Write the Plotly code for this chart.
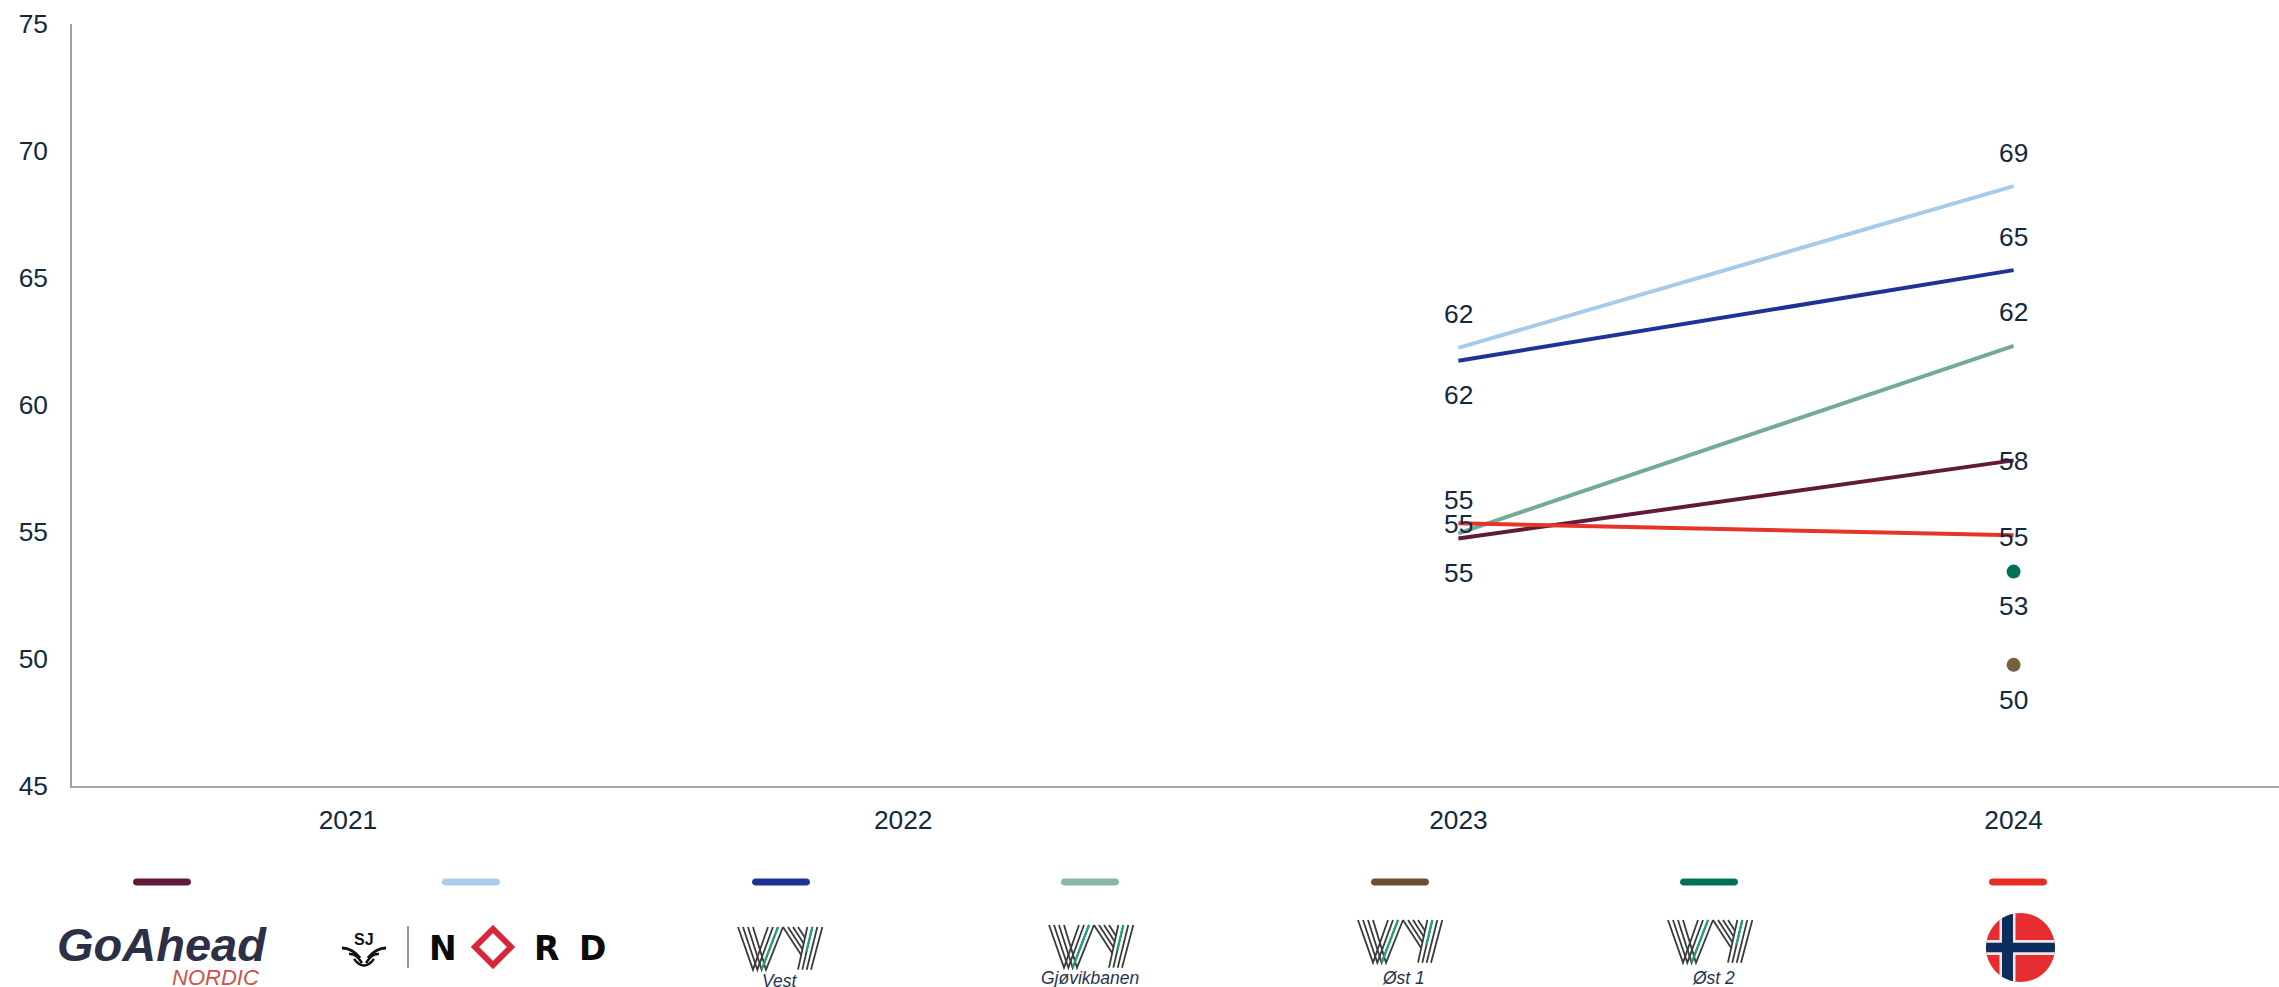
import math
import plotly.graph_objects as go

years = ["2021", "2022", "2023", "2024"]
go_ahead = [None, None, 54.74, 57.82]
sj_nord = [None, None, 62.25, 68.62]
vy_vest = [None, None, 61.74, 65.31]
vy_gjovik = [None, None, 54.95, 62.33]
vy_ost1 = [None, None, None, 49.77]
vy_ost2 = [None, None, None, 53.44]
norge = [None, None, 55.34, 54.87]

y_ticks = [45, 50, 55, 60, 65, 70, 75]
INK = "#12293f"
FONT = "Liberation Sans"

W, H = 2279, 987
L, T, B = 72, 24, 786


def px(x):
    return (x - L) / (W - L)


def py(y):
    return (B - y) / (B - T)


def P2(x, y):
    return f"{px(x):.5f} {py(y):.5f}"


shapes = []
annos = []


def add_path(d, fill=None, line=None, width=0):
    s = dict(type="path", xref="paper", yref="paper", path=d, layer="above")
    s["fillcolor"] = fill if fill else "rgba(0,0,0,0)"
    s["line"] = dict(color=line if line else "rgba(0,0,0,0)", width=width)
    shapes.append(s)


def poly(points, fill):
    d = "M" + " L".join(P2(x, y) for x, y in points) + " Z"
    add_path(d, fill=fill)


def arc(cx, cy, r, a0, a1, n=24):
    return [(cx + r * math.cos(a0 + (a1 - a0) * k / n), cy + r * math.sin(a0 + (a1 - a0) * k / n))
            for k in range(n + 1)]


def text(x, y, t, size, color=INK, family=FONT):
    annos.append(dict(xref="paper", yref="paper", x=px(x), y=py(y), text=t, showarrow=False,
                      xanchor="center", yanchor="middle", borderpad=0,
                      font=dict(size=size, color=color, family=family)))


def legend_dash(cx, color, y=882, half=29, r=3.5):
    x0, x1 = cx - half + r, cx + half - r
    pts = arc(x1, y, r, -math.pi / 2, math.pi / 2, 8) + arc(x0, y, r, math.pi / 2, 3 * math.pi / 2, 8)
    poly(pts, color)


def vy_logo(x0, y0):
    def q(x, y):
        return P2(x0 + x / 3, y0 + y / 3)

    black, green = "#3a3c3c", "#1fa283"
    sw = 1.8
    for i in range(4):
        add_path(f"M{q(15 * i, 0)} L{q(45 + 13 * i, 128)} L{q(90 + 15 * i, 0)}", line=black, width=sw)
        end_y = (73 - 15 * i) / 0.869
        add_path(f"M{q(135 + 15 * i, 0)} L{q(135 + 15 * i + 0.65 * end_y, end_y)}", line=black, width=sw)
        add_path(f"M{q(180 + 13 * i, 128)} L{q(208 + 15 * i, 0)}", line=black, width=sw)
    add_path(f"M{q(71, 128)} L{q(120, 0)}", line=green, width=sw + 0.4)
    add_path(f"M{q(205, 75)} L{q(223, 0)}", line=green, width=sw + 0.4)


def chord_bar_v(cx, cy, r, x1, x2, color):
    a = [math.acos(x1 / r), math.acos(x2 / r)]
    top = arc(cx, cy, r, -a[0], -a[1], 8)
    bottom = arc(cx, cy, r, a[1], a[0], 8)
    poly(top + bottom, color)


def chord_bar_h(cx, cy, r, y1, y2, color):
    a = [math.asin(y1 / r), math.asin(y2 / r)]
    right = arc(cx, cy, r, a[0], a[1], 8)
    left = arc(cx, cy, r, math.pi - a[1], math.pi - a[0], 8)
    poly(right + left, color)


def flag(cx, cy, r):
    red, navy, white = "#e62e31", "#0c2e5e", "#f4e6e8"
    poly(arc(cx, cy, r, 0, 2 * math.pi, 72), red)
    chord_bar_v(cx, cy, r, -21, -5, white)
    chord_bar_h(cx, cy, r, -7.5, 7.5, white)
    chord_bar_v(cx, cy, r, -18.5, -7.5, navy)
    chord_bar_h(cx, cy, r, -4.8, 4.8, navy)


# legend dashes
legend_x = [162, 471, 781, 1090, 1400, 1709, 2018]
legend_c = ["#611a3a", "#a8cdec", "#1f3296", "#88b7a5", "#6b4f2e", "#00725a", "#e52d24"]
for cx, c in zip(legend_x, legend_c):
    legend_dash(cx, c)

# Go-Ahead
text(162, 944, "<b><i>GoAhead</i></b>", 47, "#2d2f47")
text(215, 977, "<i>NORDIC</i>", 22, "#cf524a")

# SJ | NORD
text(364, 939, "<b>SJ</b>", 16, "#111111")
for sgn in (-1, 1):
    add_path(f"M{P2(364 + sgn * 22, 948)} Q{P2(364 + sgn * 12, 948)} {P2(364 + sgn * 4, 958)}", line="#111111", width=3)
    add_path(f"M{P2(364 + sgn * 15, 954)} Q{P2(364 + sgn * 8, 953)} {P2(364 + sgn * 2, 963)}", line="#111111", width=2.5)
add_path(f"M{P2(354, 959)} Q{P2(364, 972)} {P2(374, 959)}", line="#111111", width=2.5)
add_path(f"M{P2(408, 926)} L{P2(408, 968)}", line="#777777", width=1.5)
text(443, 948, "<b>N</b>", 33, "#0b0b0b", "DejaVu Sans")
text(546, 948, "<b>R</b>", 33, "#0b0b0b", "DejaVu Sans")
text(592, 948, "<b>D</b>", 33, "#0b0b0b", "DejaVu Sans")
add_path(f"M{P2(493, 929)} L{P2(511, 947)} L{P2(493, 965)} L{P2(475, 947)} Z", line="#d7263a", width=6)

# Vy logos and captions
vy_logo(738, 927)
vy_logo(1049, 925)
vy_logo(1358, 920)
vy_logo(1668, 920)
text(780, 981, "<i>Vest</i>", 17.5, "#1d3650")
text(1090, 978, "<i>Gjøvikbanen</i>", 17.5, "#1d3650")
text(1403, 978, "<i>Øst 1</i>", 17.5, "#1d3650")
text(1713, 978, "<i>Øst 2</i>", 17.5, "#1d3650")

# Norway flag
flag(2020.5, 947.5, 34.5)

fig = go.Figure()
line_series = [
    ("Go-Ahead Nordic", go_ahead, "#611a3a"),
    ("SJ Nord", sj_nord, "#a6cbe8"),
    ("Vy Vest", vy_vest, "#1f3296"),
    ("Vy Gjøvikbanen", vy_gjovik, "#74aa98"),
]
for name, vals, color in line_series:
    fig.add_trace(go.Scatter(x=years, y=vals, name=name, mode="lines",
                             line=dict(color=color, width=4)))
dot_series = [
    ("Vy Øst 1", vy_ost1, "#75603f"),
    ("Vy Øst 2", vy_ost2, "#00725a"),
]
for name, vals, color in dot_series:
    fig.add_trace(go.Scatter(x=years, y=vals, name=name, mode="markers",
                             marker=dict(color=color, size=14)))
fig.add_trace(go.Scatter(x=years, y=norge, name="Norge", mode="lines",
                         line=dict(color="#e5352b", width=4)))

# data labels: (series, shift in px)
label_shift = [
    (sj_nord, {2: 33.5, 3: 33.5}),
    (vy_vest, {2: -34.5, 3: 33.5}),
    (vy_gjovik, {2: 33.5, 3: 33.5}),
    (go_ahead, {2: -34.5, 3: -1}),
    (norge, {2: -1, 3: -2}),
    (vy_ost2, {3: -34}),
    (vy_ost1, {3: -35}),
]
label_text = {id(sj_nord): (62, 69), id(vy_vest): (62, 65), id(vy_gjovik): (55, 62),
              id(go_ahead): (55, 58), id(norge): (55, 55), id(vy_ost2): (None, 53), id(vy_ost1): (None, 50)}
for vals, shifts in label_shift:
    for idx, shift in shifts.items():
        annos.append(dict(x=idx, y=vals[idx], xref="x", yref="y", text=str(label_text[id(vals)][idx - 2]),
                          showarrow=False, yshift=shift, xanchor="center", yanchor="middle",
                          font=dict(size=26.3, color=INK, family=FONT)))

fig.update_layout(
    width=W, height=H, autosize=False,
    margin=dict(l=L, r=0, t=T, b=H - B, pad=0),
    paper_bgcolor="white", plot_bgcolor="white",
    showlegend=False,
    font=dict(family=FONT, size=26.3, color=INK),
    shapes=shapes, annotations=annos,
    xaxis=dict(type="category", categoryorder="array", categoryarray=years,
               range=[-0.497, 3.478], showgrid=False, zeroline=False,
               showline=True, linecolor="#a9a9ad", linewidth=2, ticks="",
               ticklabelstandoff=9, tickfont=dict(size=26.3, color=INK, family=FONT)),
    yaxis=dict(range=[45, 75], tickvals=y_ticks, showgrid=False, zeroline=False,
               showline=True, linecolor="#a0a0a0", linewidth=1.5, ticks="",
               ticklabelstandoff=17, tickfont=dict(size=26.3, color=INK, family=FONT)),
)

fig.write_html("out.html", config={"displayModeBar": False},
               post_script="document.body.style.margin='0';document.body.style.overflow='hidden';")
